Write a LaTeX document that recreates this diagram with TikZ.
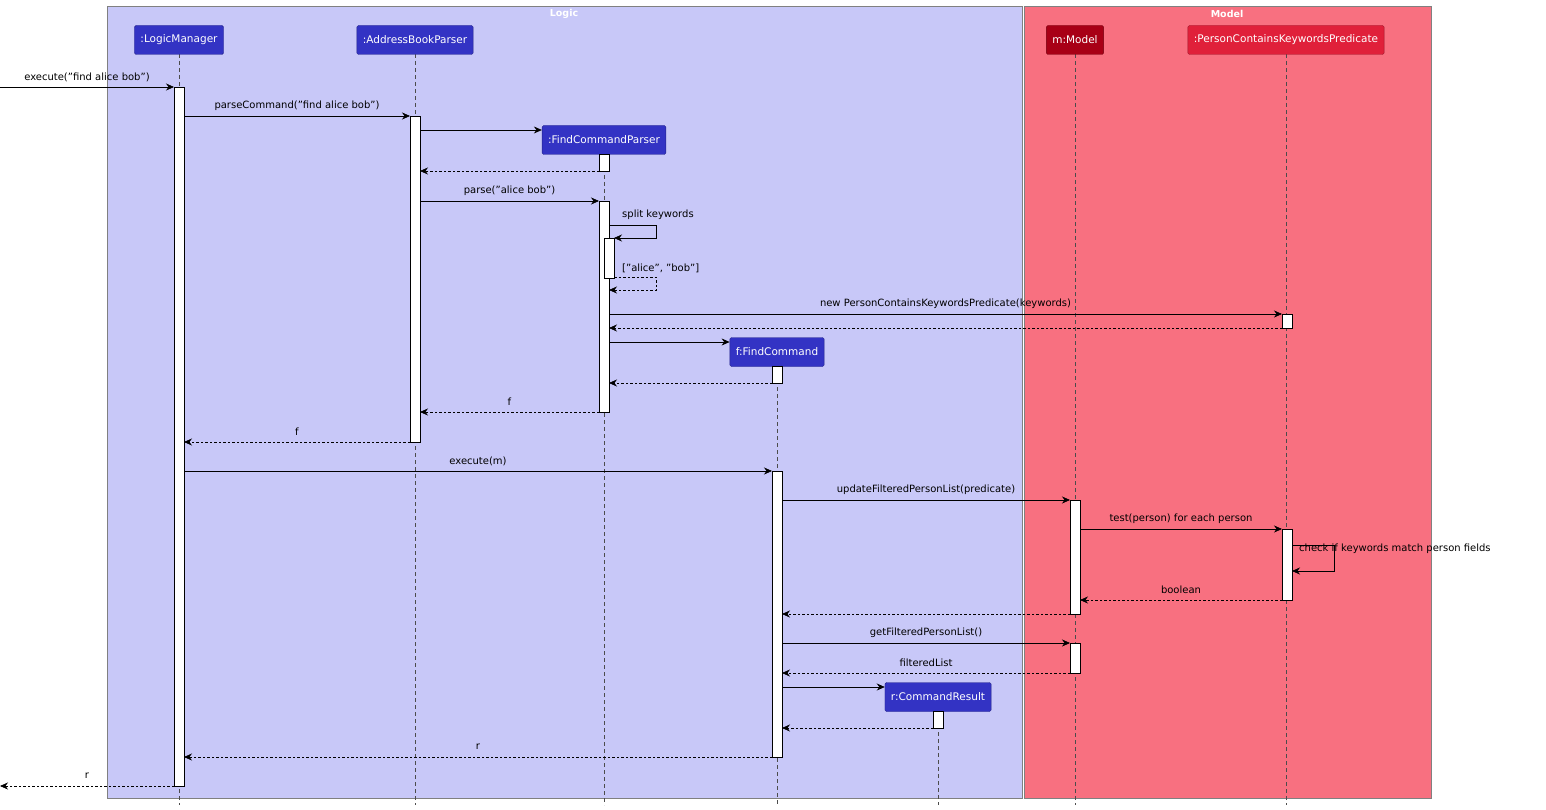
\documentclass[tikz,border=0pt]{standalone}
\usepackage{fontspec}
\setmainfont{DejaVu Sans}
\usetikzlibrary{arrows.meta}
\definecolor{logicbg}{HTML}{C8C8F8}
\definecolor{modelbg}{HTML}{F87080}
\definecolor{partblue}{HTML}{3333C4}
\definecolor{partdark}{HTML}{A80016}
\definecolor{partred}{HTML}{E0203A}
\tikzset{
  box/.style={draw=#1!70!black, fill=#1, rounded corners=1.5pt, text=white, font=\fontsize{10.5}{12}\selectfont, inner xsep=6pt, minimum height=29pt, anchor=center},
  life/.style={draw=black!70, dash pattern=on 4pt off 3pt, line width=0.5pt},
  act/.style={draw=black, fill=white, line width=0.6pt},
  call/.style={-{Stealth[length=8pt,width=7pt]}, line width=0.7pt},
  ret/.style={call, dash pattern=on 2.5pt off 2pt},
  lbl/.style={font=\fontsize{10}{12}\selectfont, inner sep=0pt},
}
\newcommand{\msgX}[5]{\draw[#5] (#1,#3) -- (#2,#3); \node[lbl] at ({(#1+#2)/2},#3-10) {#4};}
\newcommand{\actX}[3]{\draw[act] (#1-5,#2) rectangle (#1+5,#3);}
\begin{document}
\begin{tikzpicture}[x=1pt,y=-1pt]
\useasboundingbox (0,0) rectangle (1546,810);
% groups
\draw[black!50, fill=logicbg] (107,6) rectangle (1022,798);
\node[text=white, font=\bfseries\fontsize{9.5}{11}\selectfont] (glogic) at (564,14) {Logic};
\draw[black!50, fill=modelbg] (1024,6) rectangle (1431,798);
\node[text=white, font=\bfseries\fontsize{9.5}{11}\selectfont] (gmodel) at (1227,14) {Model};
% lifelines
\draw[life] (179,54) -- (179,805);
\draw[life] (415,54) -- (415,805);
\draw[life] (604,154) -- (604,805);
\draw[life] (777,366) -- (777,805);
\draw[life] (938,711) -- (938,805);
\draw[life] (1075,54) -- (1075,805);
\draw[life] (1286,54) -- (1286,805);
% participants
\node[box=partblue] (lm) at (179,40) {:LogicManager};
\node[box=partblue] (abp) at (415,40) {:AddressBookParser};
\node[box=partblue] (fcp) at (604,140) {:FindCommandParser};
\node[box=partblue] (fc) at (777,352) {f:FindCommand};
\node[box=partblue] (cr) at (938,697) {r:CommandResult};
\node[box=partdark] (mm) at (1075,40) {m:Model};
\node[box=partred] (pred) at (1286,40) {:PersonContainsKeywordsPredicate};
% activations
\actX{179}{87}{786}
\actX{415}{116}{442}
\actX{604}{154}{171}
\actX{604}{201}{412}
\actX{609}{238}{278}
\actX{1287}{314}{328}
\actX{777}{366}{383}
\actX{777}{471}{757}
\actX{1075}{500}{614}
\actX{1075}{643}{673}
\actX{1287}{529}{600}
\actX{938}{711}{728}
% messages
\msgX{0}{174}{87}{execute("find alice bob")}{call}
\msgX{184}{410}{116}{parseCommand("find alice bob")}{call}
\draw[call] (420,130) -- (fcp.west |- 0,130);
\draw[ret] (599,171) -- (420,171);
\msgX{420}{599}{201}{parse("alice bob")}{call}
\draw[call] (609,225) -- (656,225) -- (656,238) -- (614,238);
\node[lbl, anchor=west] at (622,215) {split keywords};
\draw[ret] (614,277) -- (656,277) -- (656,290) -- (609,290);
\node[lbl, anchor=west] at (622,268) {["alice", "bob"]};
\msgX{609}{1282}{314}{new PersonContainsKeywordsPredicate(keywords)}{call}
\draw[ret] (1282,328) -- (609,328);
\draw[call] (609,342) -- (fc.west |- 0,342);
\draw[ret] (772,383) -- (609,383);
\msgX{599}{420}{412}{f}{ret}
\msgX{410}{184}{442}{f}{ret}
\msgX{184}{772}{471}{execute(m)}{call}
\msgX{782}{1070}{500}{updateFilteredPersonList(predicate)}{call}
\msgX{1080}{1282}{529}{test(person) for each person}{call}
\draw[call] (1292,545) -- (1334,545) -- (1334,571) -- (1292,571);
\node[lbl, anchor=west] at (1299,549) {check if keywords match person fields};
\msgX{1282}{1080}{600}{boolean}{ret}
\draw[ret] (1070,614) -- (782,614);
\msgX{782}{1070}{643}{getFilteredPersonList()}{call}
\msgX{1070}{782}{673}{filteredList}{ret}
\draw[call] (782,687) -- (cr.west |- 0,687);
\draw[ret] (933,728) -- (782,728);
\msgX{772}{184}{757}{r}{ret}
\msgX{174}{0}{786}{r}{ret}
\end{tikzpicture}
\end{document}
